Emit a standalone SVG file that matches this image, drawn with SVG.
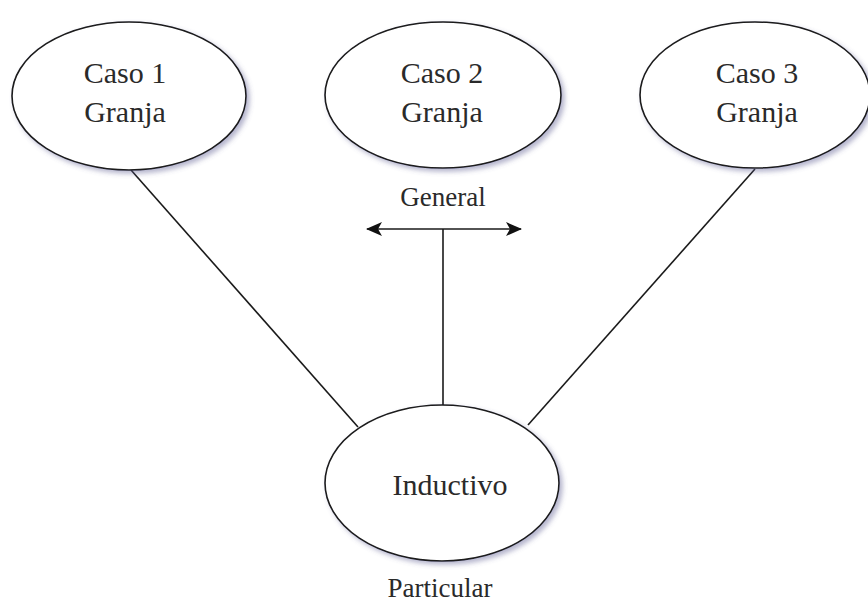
<svg xmlns="http://www.w3.org/2000/svg" width="868" height="605" viewBox="0 0 868 605">
<style>
.node ellipse{fill:#fff;stroke:#1a1a1a;stroke-width:1.6;filter:url(#sh)}
.lbl{fill:#2a2a2a;text-anchor:middle}
.big{font-size:30px}
.small{font-size:27px}
.edge{stroke:#1a1a1a;stroke-width:1.6;fill:none}
</style>
<defs>
<filter id="sh" x="-20%" y="-20%" width="140%" height="140%">
<feDropShadow dx="3" dy="3" stdDeviation="2.5" flood-color="#5a5a90" flood-opacity="0.45"/>
</filter>
<marker id="ah" viewBox="0 0 16 14" refX="15" refY="7" markerWidth="16" markerHeight="14" markerUnits="userSpaceOnUse" orient="auto-start-reverse">
<path d="M0,0 L16,7 L0,14 L4,7 Z" fill="#111"/>
</marker>
</defs>
<rect width="868" height="605" fill="#fff"/>
<g id="connectors">
<line class="edge" x1="131" y1="170" x2="358" y2="427"/>
<line class="edge" x1="755" y1="169" x2="528" y2="425"/>
<line class="edge" x1="443" y1="229" x2="443" y2="405"/>
<line class="edge" x1="367" y1="229" x2="521" y2="229" marker-start="url(#ah)" marker-end="url(#ah)"/>
</g>
<g font-family="Liberation Serif, Tinos, Times New Roman, Nimbus Roman, DejaVu Serif, serif">
<g id="caso1" class="node">
<ellipse cx="129" cy="96" rx="117" ry="74"/>
<text class="lbl big" x="125" y="83">Caso 1</text>
<text class="lbl big" x="125" y="122">Granja</text>
</g>
<g id="caso2" class="node">
<ellipse cx="443" cy="95" rx="118" ry="73"/>
<text class="lbl big" x="442" y="83">Caso 2</text>
<text class="lbl big" x="442" y="122">Granja</text>
</g>
<g id="caso3" class="node">
<ellipse cx="755" cy="95" rx="115" ry="73"/>
<text class="lbl big" x="757" y="83">Caso 3</text>
<text class="lbl big" x="757" y="122">Granja</text>
</g>
<g id="inductivo" class="node">
<ellipse cx="442" cy="483" rx="117" ry="78"/>
<text class="lbl big" x="450" y="495">Inductivo</text>
</g>
<g id="general">
<text class="lbl small" x="443" y="206">General</text>
</g>
<g id="particular">
<text class="lbl small" x="440" y="597">Particular</text>
</g>
</g>
</svg>
